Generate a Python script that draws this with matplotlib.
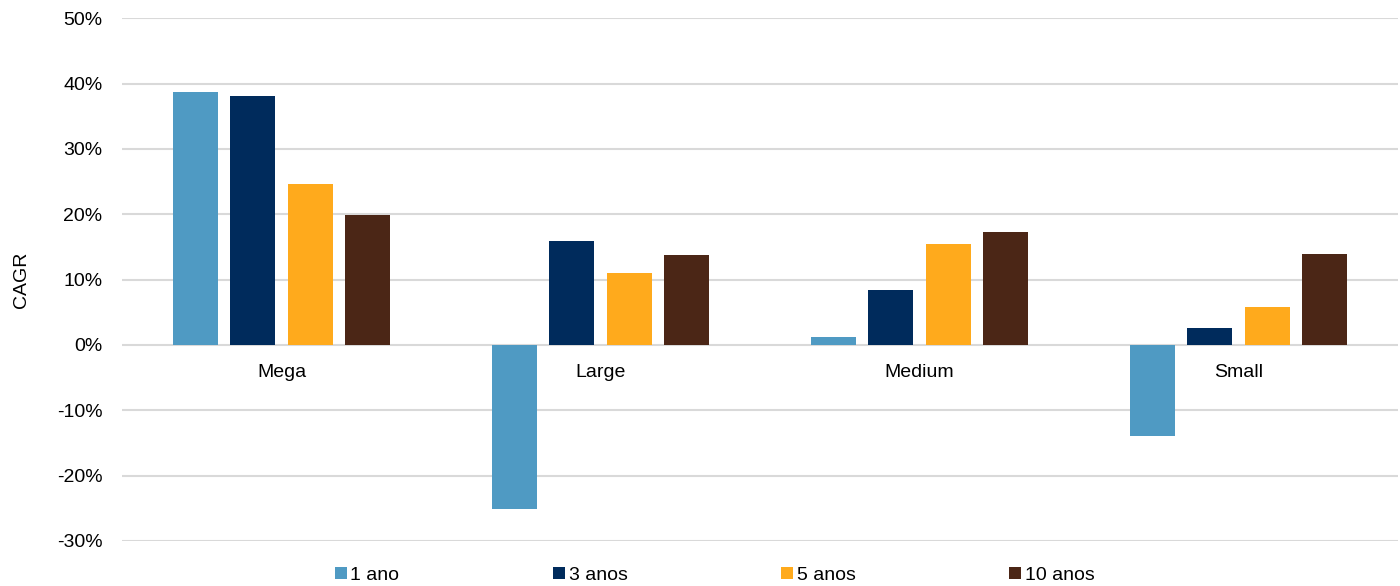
import matplotlib
matplotlib.use('Agg')
from matplotlib import pyplot as plt
from matplotlib.ticker import FuncFormatter
import numpy as np

plt.rcParams['font.family'] = ['Liberation Sans', 'DejaVu Sans']

categories = ['Mega', 'Large', 'Medium', 'Small']
series = ['1 ano', '3 anos', '5 anos', '10 anos']
colors = ['#4F9AC3', '#002B5C', '#FFAA1C', '#4B2616']

ano1 = [38.7, -25.1, 1.2, -13.9]
anos3 = [38.1, 15.9, 8.4, 2.6]
anos5 = [24.6, 11.0, 15.4, 5.8]
anos10 = [19.9, 13.8, 17.3, 13.9]
values = [ano1, anos3, anos5, anos10]

fig = plt.figure(figsize=(14, 5.86), dpi=100)
ax = fig.add_axes([0.0871, 0.0768, 0.9115, 0.8922])

x = np.arange(len(categories))
step = 0.18
width = 0.141
for k in range(len(series)):
    ax.bar(x + (k - 1.5) * step, values[k], width, color=colors[k], label=series[k], zorder=3)

ax.set_xlim(-0.5, 3.5)
ax.set_ylim(-30, 50)
ax.set_yticks(np.arange(-30, 51, 10))
ax.yaxis.set_major_formatter(FuncFormatter(lambda v, p: '%d%%' % v))
ax.grid(axis='y', color='#D9D9D9', linewidth=1.5, zorder=0)
ax.set_xticks([])
for s in ax.spines.values():
    s.set_visible(False)
ax.tick_params(axis='y', length=0, labelsize=14, pad=14, colors='#000000')
ax.set_ylabel('CAGR', fontsize=14, labelpad=19)

for i, c in enumerate(categories):
    ax.annotate(c, xy=(i, 0), xytext=(0, -19.5), textcoords='offset points',
                ha='center', va='center', fontsize=14)

ax.legend(loc='upper center', bbox_to_anchor=(0.4645, -0.035), ncol=4, frameon=False,
          fontsize=14, handlelength=0.6, handleheight=0.6, handletextpad=0.2,
          columnspacing=7.9, borderaxespad=0)

fig.savefig('out.png', dpi=100)
